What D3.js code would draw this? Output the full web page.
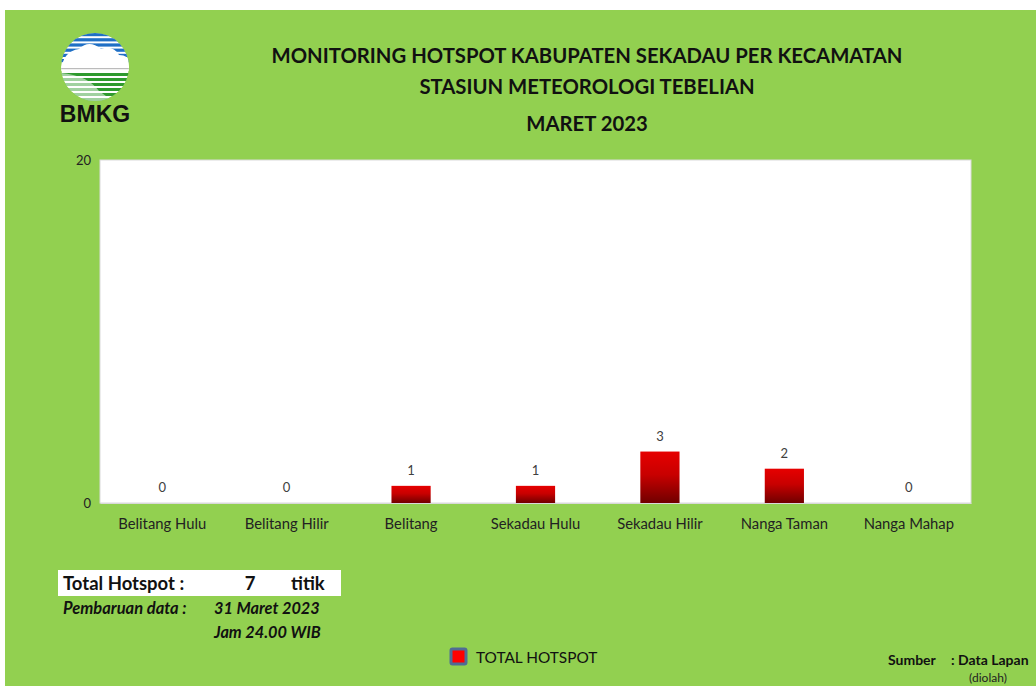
<!DOCTYPE html>
<html>
<head>
<meta charset="utf-8">
<script src="https://cdn.jsdelivr.net/npm/d3@7"></script>
<style>
  html, body { margin: 0; padding: 0; background: #fff; }
  text { font-family: Lato, "Open Sans", sans-serif; }
</style>
</head>
<body>
<div id="chart"></div>
<script>
// --------------- Data ---------------
const kecamatan = ["Belitang Hulu", "Belitang Hilir", "Belitang", "Sekadau Hulu", "Sekadau Hilir", "Nanga Taman", "Nanga Mahap"];
const hotspot = [0, 0, 1, 1, 3, 2, 0];
const yTicks = [0, 20];
const titleLines = [
  "MONITORING HOTSPOT KABUPATEN SEKADAU PER KECAMATAN",
  "STASIUN METEOROLOGI TEBELIAN",
  "MARET 2023"
];

// --------------- Constants ---------------
const WIDTH = 1036;
const HEIGHT = 686;
const BG = "#92d050";
const plot = { left: 100, right: 971, top: 160, bottom: 503 };

const svg = d3.select("#chart").append("svg")
  .attr("width", WIDTH)
  .attr("height", HEIGHT);

const defs = svg.append("defs");
const grad = defs.append("linearGradient")
  .attr("id", "barGrad")
  .attr("x1", 0).attr("y1", 0).attr("x2", 0).attr("y2", 1);
grad.append("stop").attr("offset", "0%").attr("stop-color", "#e60000");
grad.append("stop").attr("offset", "45%").attr("stop-color", "#c80000");
grad.append("stop").attr("offset", "100%").attr("stop-color", "#700000");

// background
svg.append("rect")
  .attr("x", 5).attr("y", 10)
  .attr("width", WIDTH - 5).attr("height", HEIGHT - 10)
  .attr("fill", BG);

// --------------- Logo ---------------
function renderLogo() {
  const cx = 95, cy = 67, r = 34;
  defs.append("clipPath").attr("id", "logoClip")
    .append("circle").attr("cx", cx).attr("cy", cy).attr("r", r);
  const lg = svg.append("g").attr("clip-path", "url(#logoClip)");
  lg.append("circle").attr("cx", cx).attr("cy", cy).attr("r", r).attr("fill", "#fff");
  // blue stripes
  for (let i = 0; i < 6; i++) {
    lg.append("rect")
      .attr("x", cx - r).attr("y", cy - r + i * 5.2)
      .attr("width", 2 * r).attr("height", 3.2)
      .attr("fill", "#1f6fc5");
  }
  // cloud
  lg.append("path")
    .attr("d", `M${cx - r} ${cy + 4} Q${cx - 32} ${cy - 16} ${cx - 16} ${cy - 18}
      Q${cx - 6} ${cy - 28} ${cx + 6} ${cy - 18} Q${cx + 18} ${cy - 22} ${cx + 24} ${cy - 12}
      Q${cx + 34} ${cy - 12} ${cx + r} ${cy - 4} L${cx + r} ${cy + 4} Z`)
    .attr("fill", "#fff");
  // horizon line
  lg.append("rect").attr("x", cx - r).attr("y", cy + 1).attr("width", 2 * r).attr("height", 1.2).attr("fill", "#bbb");
  // green stripes
  for (let i = 0; i < 6; i++) {
    lg.append("rect")
      .attr("x", cx - r).attr("y", cy + 6 + i * 5)
      .attr("width", 2 * r).attr("height", 3)
      .attr("fill", "#2e9a2e");
  }
  // hill
  lg.append("path")
    .attr("d", `M${cx - r} ${cy + 6} Q${cx - 8} ${cy + 8} ${cx + 4} ${cy + 24} L${cx + 18} ${cy + r} L${cx - r} ${cy + r} Z`)
    .attr("fill", "#fff").attr("opacity", 0.55);
  svg.append("text")
    .attr("x", cx).attr("y", 122)
    .attr("text-anchor", "middle")
    .style("font-family", "'Liberation Sans', Arial, sans-serif")
    .style("font-weight", "bold")
    .style("font-size", "23px")
    .attr("fill", "#111")
    .text("BMKG");
}
renderLogo();

// --------------- Title ---------------
svg.append("g").selectAll("text")
  .data(titleLines)
  .join("text")
  .attr("x", 587)
  .attr("y", (d, i) => [63, 94, 131][i])
  .attr("text-anchor", "middle")
  .style("font-weight", "bold")
  .style("font-size", "20.3px")
  .attr("fill", "#111")
  .text((d) => d);

// --------------- Chart ---------------
const x = d3.scaleBand()
  .domain(kecamatan)
  .range([plot.left, plot.right])
  .paddingInner(0.685)
  .paddingOuter(0.3425);

const y = d3.scaleLinear().domain([0, 20]).range([plot.bottom, plot.top]);

svg.append("rect")
  .attr("x", plot.left).attr("y", plot.top)
  .attr("width", plot.right - plot.left).attr("height", plot.bottom - plot.top)
  .attr("fill", "#fff")
  .attr("stroke", "#d9d9d9")
  .attr("stroke-width", 1);

const yAxis = svg.append("g")
  .attr("transform", `translate(${plot.left},0)`)
  .call(d3.axisLeft(y).tickValues(yTicks).tickSize(0).tickPadding(9));
yAxis.select(".domain").remove();
yAxis.selectAll("text")
  .style("font-family", "Lato, 'Open Sans', sans-serif")
  .style("font-size", "13px")
  .attr("fill", "#222");

const xAxis = svg.append("g")
  .attr("transform", `translate(0,${plot.bottom})`)
  .call(d3.axisBottom(x).tickSize(0).tickPadding(15));
xAxis.select(".domain").attr("stroke", "#d9d9d9");
xAxis.selectAll("text")
  .style("font-family", "Lato, 'Open Sans', sans-serif")
  .style("font-size", "14.8px")
  .attr("fill", "#222");

svg.append("g").selectAll("rect")
  .data(hotspot)
  .join("rect")
  .attr("x", (d, i) => x(kecamatan[i]))
  .attr("y", (d) => y(d))
  .attr("width", x.bandwidth())
  .attr("height", (d) => y(0) - y(d))
  .attr("fill", "url(#barGrad)");

svg.append("g").selectAll("text")
  .data(hotspot)
  .join("text")
  .attr("x", (d, i) => x(kecamatan[i]) + x.bandwidth() / 2)
  .attr("y", (d) => y(d) - 11)
  .attr("text-anchor", "middle")
  .style("font-size", "13px")
  .attr("fill", "#404040")
  .text((d) => d);

// --------------- Info box ---------------
const total = d3.sum(hotspot);
svg.append("rect")
  .attr("x", 58).attr("y", 570).attr("width", 283).attr("height", 26)
  .attr("fill", "#fff");
const boldText = (tx, ty, str, size, anchor) => svg.append("text")
  .attr("x", tx).attr("y", ty)
  .attr("text-anchor", anchor || "start")
  .style("font-weight", "bold")
  .style("font-size", size)
  .attr("fill", "#111")
  .text(str);
boldText(63, 590, "Total Hotspot :", "18.5px");
boldText(250, 590, total, "18.5px", "middle");
boldText(291, 590, "titik", "18.5px");
boldText(63, 614, "Pembaruan data :", "16.5px").style("font-style", "italic");
boldText(214, 614, "31 Maret 2023", "16.3px").style("font-style", "italic");
boldText(214, 638, "Jam 24.00 WIB", "16.3px").style("font-style", "italic");

// --------------- Legend ---------------
svg.append("rect")
  .attr("x", 451).attr("y", 649).attr("width", 15).attr("height", 15)
  .attr("fill", "#ff0000").attr("stroke", "#4f6c94").attr("stroke-width", 3).attr("rx", 1.5);
svg.append("text")
  .attr("x", 476).attr("y", 663)
  .style("font-size", "15.4px")
  .attr("fill", "#111")
  .text("TOTAL HOTSPOT");

// --------------- Source ---------------
boldText(888, 665, "Sumber", "14px");
boldText(951, 665, ": Data Lapan", "14px");
svg.append("text")
  .attr("x", 988).attr("y", 682)
  .attr("text-anchor", "middle")
  .style("font-size", "12px")
  .attr("fill", "#222")
  .text("(diolah)");
</script>
</body>
</html>
